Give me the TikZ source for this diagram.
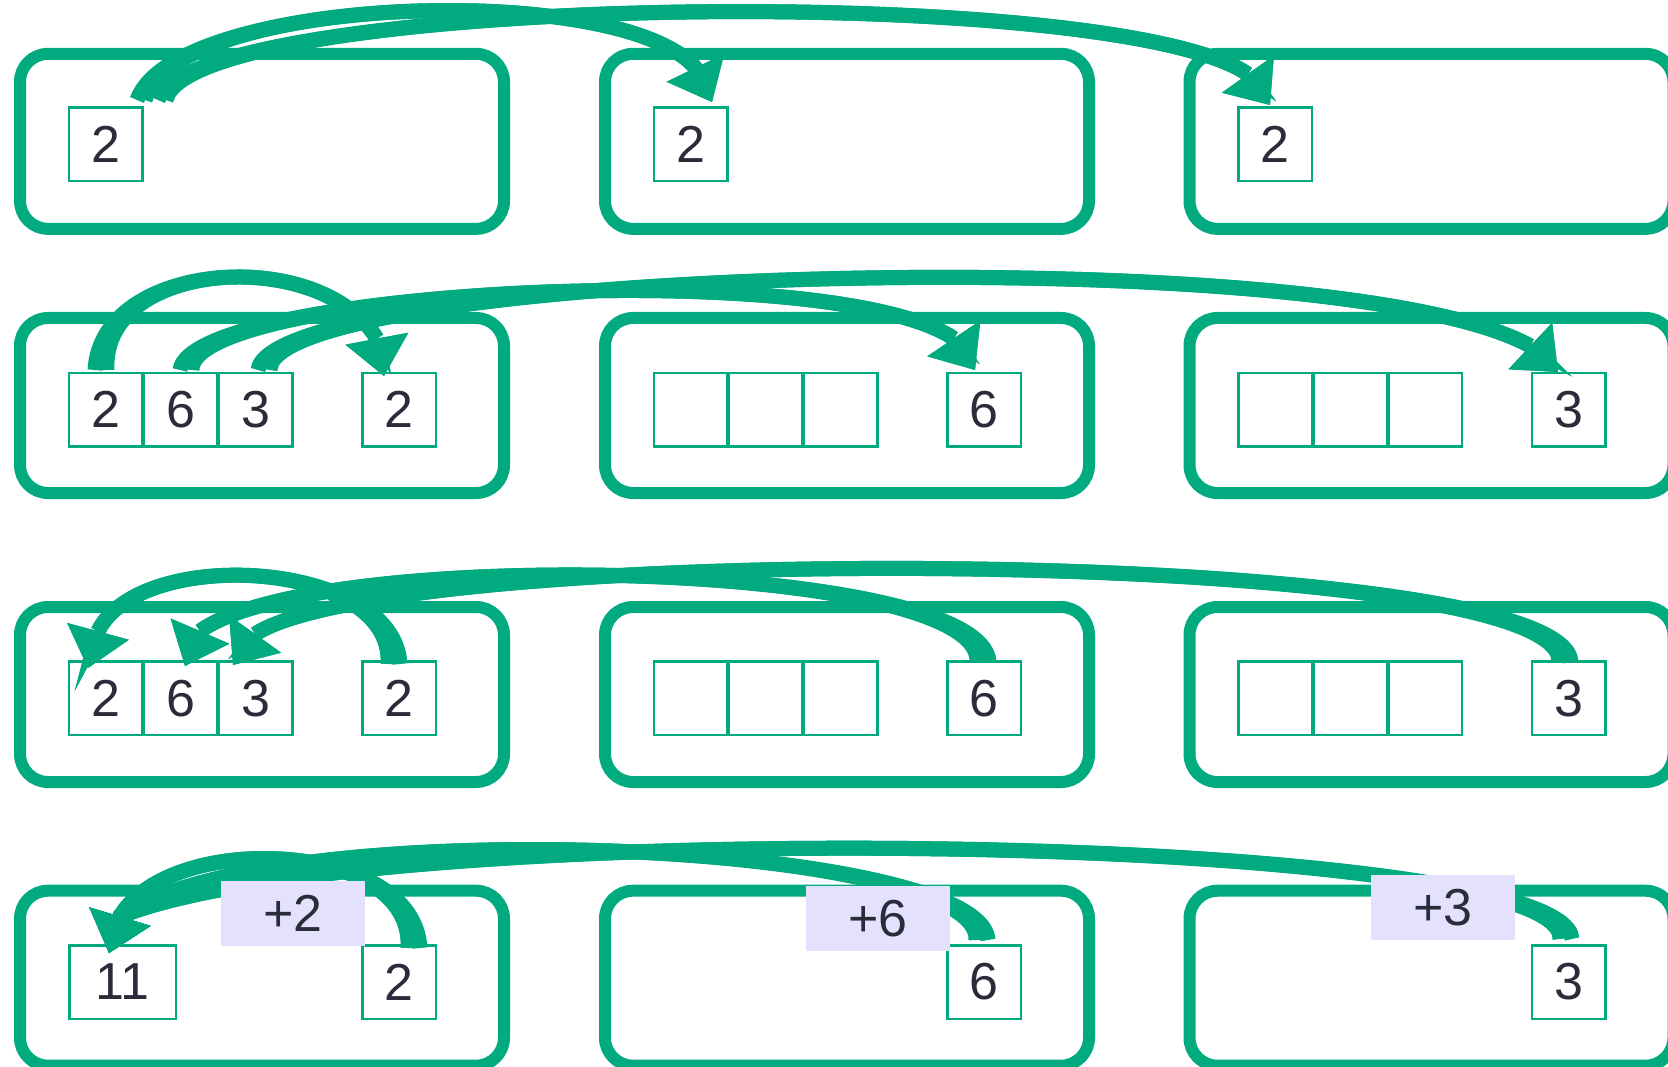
\documentclass[tikz,border=0pt]{standalone}
\usepackage{fontspec}
\setmainfont{Liberation Sans}
\usetikzlibrary{arrows.meta,calc}
\definecolor{grn}{RGB}{2,170,128}
\definecolor{lav}{RGB}{228,225,253}
\definecolor{ink}{RGB}{42,44,58}
% #1 start anchor, #2 start offset, #3 #4 controls, #5 end anchor, #6 head base offset, #7 tip offset, #8 half spread of the two strokes
\newcommand\roughconn[8]{%
  \draw[arr] ($(#1)+(#2)+(-#8,0)$) .. controls (#3) and (#4) .. ($(#5)+(#6)$) -- ($(#5)+(#7)$);
  \draw[arr] ($(#1)+(#2)+(#8,0)$) .. controls (#3) and (#4) .. ($(#5)+(#6)$) -- ($(#5)+(#7)$);
}
\begin{document}
\begin{tikzpicture}[x=1pt,y=-1pt,
  panel/.style={draw=grn, line width=12pt, rounded corners=28pt, minimum width=484pt, minimum height=175pt, inner sep=0pt},
  cell/.style={draw=grn, line width=2.5pt, fill=white, minimum width=73.5pt, minimum height=73.5pt, inner sep=0pt, text=ink, font=\fontsize{52}{62}\selectfont},
  arr/.style={draw=grn, line width=15pt, -{Triangle[length=38pt,width=64pt,line width=0pt]}},
  tag/.style={fill=lav, minimum width=144pt, minimum height=65pt, inner sep=0pt, text=ink, font=\fontsize{52}{62}\selectfont}]
\clip (0,0) rectangle (1668,1067);
% panels
\foreach \r/\y in {1/141.35, 2/405.5, 3/694.5, 4/978.2} {
  \node[panel] (pA\r) at (262,\y) {};
  \node[panel] (pB\r) at (847,\y) {};
  \node[panel] (pC\r) at (1431.5,\y) {};
}
% row 1 cells
\node[cell] (r1a) at (105.5,144.3) {2};
\node[cell] (r1b) at (690.5,144.3) {2};
\node[cell] (r1c) at (1275,144.3) {2};
% row 2 cells
\node[cell] (r2a1) at (105.5,409.7) {2};
\node[cell] (r2a2) at (180.5,409.7) {6};
\node[cell] (r2a3) at (255.5,409.7) {3};
\node[cell] (r2as) at (399,409.7) {2};
\node[cell] (r2b1) at (690.5,409.7) {};
\node[cell] (r2b2) at (765.5,409.7) {};
\node[cell] (r2b3) at (840.5,409.7) {};
\node[cell] (r2bs) at (984,409.7) {6};
\node[cell] (r2c1) at (1275,409.7) {};
\node[cell] (r2c2) at (1350,409.7) {};
\node[cell] (r2c3) at (1425,409.7) {};
\node[cell] (r2cs) at (1568.5,409.7) {3};
% row 3 cells
\node[cell] (r3a1) at (105.5,698.4) {2};
\node[cell] (r3a2) at (180.5,698.4) {6};
\node[cell] (r3a3) at (255.5,698.4) {3};
\node[cell] (r3as) at (399,698.4) {2};
\node[cell] (r3b1) at (690.5,698.4) {};
\node[cell] (r3b2) at (765.5,698.4) {};
\node[cell] (r3b3) at (840.5,698.4) {};
\node[cell] (r3bs) at (984,698.4) {6};
\node[cell] (r3c1) at (1275,698.4) {};
\node[cell] (r3c2) at (1350,698.4) {};
\node[cell] (r3c3) at (1425,698.4) {};
\node[cell] (r3cs) at (1568.5,698.4) {3};
% row 4 cells
\node[cell, minimum width=106.5pt] (r4a) at (122.5,982) {11};
\node[cell] (r4as) at (399,982) {2};
\node[cell] (r4bs) at (984,982) {6};
\node[cell] (r4cs) at (1568.5,982) {3};
% row 1 arrows
\roughconn{r1a.north}{35.5,-6.3}{175,-5}{620,-20}{r1b.north}{4.9,-38.5}{21.5,-4.3}{4}
\roughconn{r1a.north}{56.5,-6.3}{190,-5}{1110,-20}{r1c.north}{-27.1,-32.2}{-5,-1.3}{4}
% row 2 arrows
\roughconn{r2a1.north}{-4.5,-1.7}{101,260}{320,245}{r2as.north}{-22.1,-33}{-15,4.3}{6}
\roughconn{r2a2.north}{5.5,-1.7}{190,290}{830,255}{r2bs.north}{-30.2,-33.2}{-9,-1.7}{6}
\roughconn{r2a3.north}{8.5,-1.7}{270,270}{1330,235}{r2cs.north}{-38.2,-25.7}{-10.5,0.3}{6}
% row 3 arrows
\roughconn{r3as.north}{-5,3.6}{394,560}{140,545}{r3a1.north}{-7.5,-29}{-17.5,7.6}{6}
\roughconn{r3bs.north}{-1,1.6}{983,560}{320,545}{r3a2.north}{19.5,-29.3}{4.5,5.6}{6}
\roughconn{r3cs.north}{-3.5,1.6}{1565,545}{400,540}{r3a3.north}{-0.4,-26.3}{-22.5,4.6}{6}
% row 4 arrows
\roughconn{r4as.north}{15,4}{414,840}{170,830}{r4a.north}{-2.5,-27.4}{-13.5,9}{6}
\roughconn{r4bs.north}{-2,-4}{982,840}{270,810}{r4a.north}{-2.5,-27.4}{-13.5,9}{6}
\roughconn{r4cs.north}{-2.5,-5}{1566,830}{370,815}{r4a.north}{-2.5,-27.4}{-13.5,9}{6}
% labels
\node[tag] (l2) at (293,913.4) {+2};
\node[tag] (l6) at (877.8,918.4) {+6};
\node[tag] (l3) at (1443,907.4) {+3};
\end{tikzpicture}
\end{document}
